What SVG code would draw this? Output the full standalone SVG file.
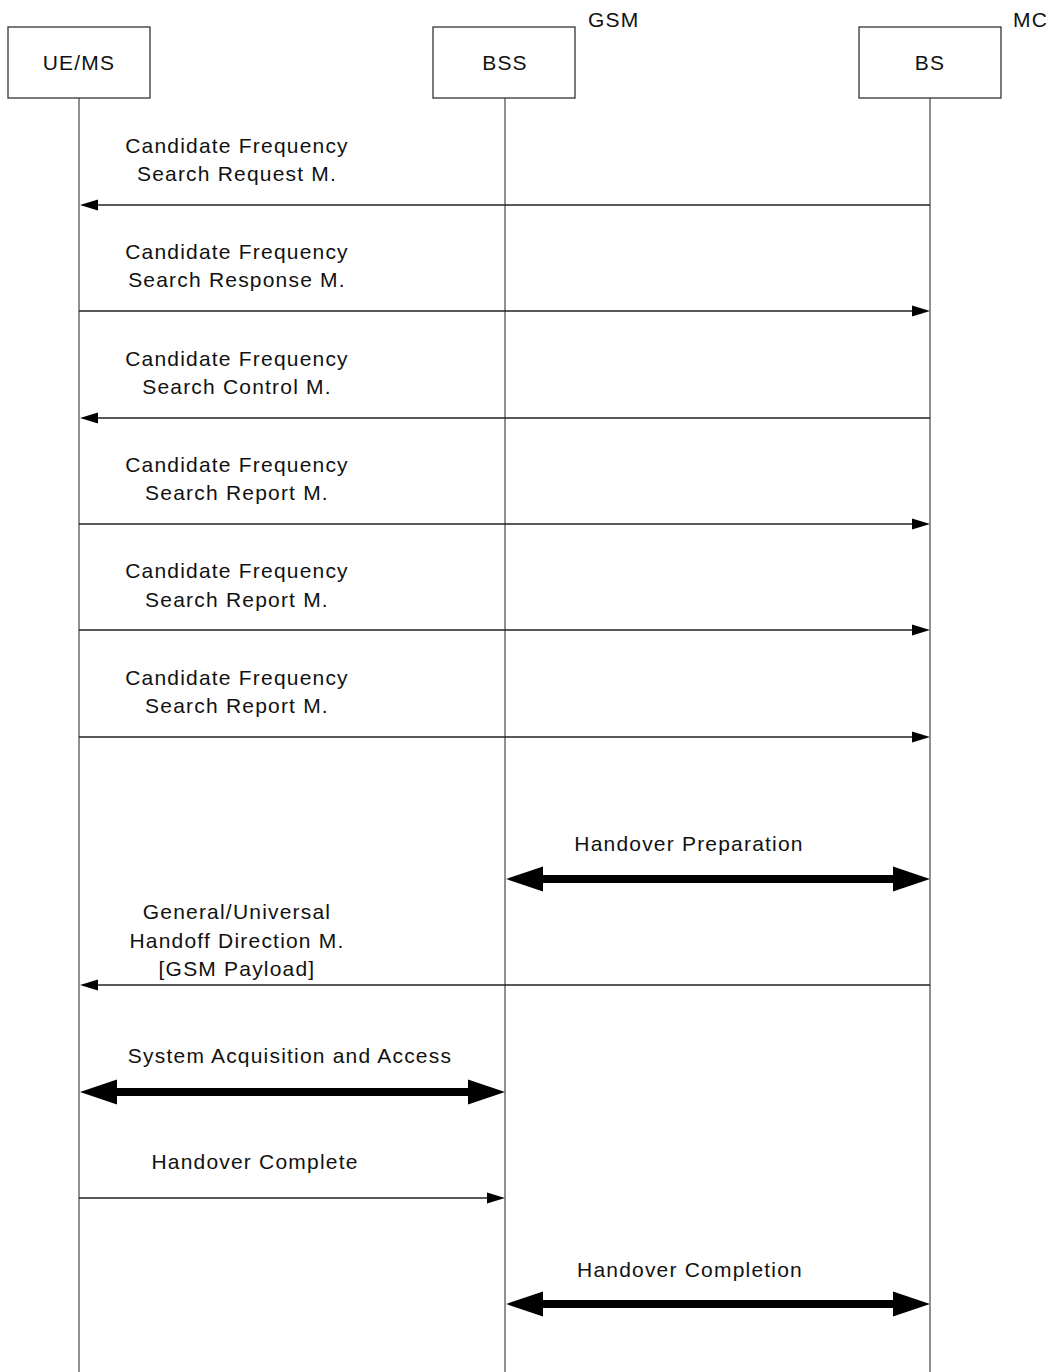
<svg xmlns="http://www.w3.org/2000/svg" width="1050" height="1372" viewBox="0 0 1050 1372">
<style>
text{font-family:"Liberation Sans",Arial,sans-serif;font-size:21px;letter-spacing:1.2px;fill:#111;text-anchor:middle}
.box{fill:#fff;stroke:#333;stroke-width:1.3}
.life{stroke:#555;stroke-width:1.3}
.msg{stroke:#222;stroke-width:1.3;fill:none}
.thick{stroke:#000;stroke-width:8;fill:none}
.head{fill:#000}
.lbl{text-anchor:start}
</style>
<rect width="1050" height="1372" fill="#fff"/>
<g id="lifelines">
<line class="life" x1="79" y1="98" x2="79" y2="1372"/>
<line class="life" x1="505" y1="98" x2="505" y2="1372"/>
<line class="life" x1="930" y1="98" x2="930" y2="1372"/>
</g>
<g id="node-uems"><rect class="box" x="8" y="27" width="142" height="71"/><text x="79" y="70">UE/MS</text></g>
<g id="node-bss"><rect class="box" x="433" y="27" width="142" height="71"/><text x="505" y="70">BSS</text><text class="lbl" x="588" y="27">GSM</text></g>
<g id="node-bs"><rect class="box" x="859" y="27" width="142" height="71"/><text x="930" y="70">BS</text><text class="lbl" x="1013" y="27">MC</text></g>
<g id="connectors">
<line class="msg" x1="930" y1="205" x2="96" y2="205"/><polygon class="head" points="80,205 98,199.5 98,210.5"/>
<line class="msg" x1="79" y1="311" x2="913" y2="311"/><polygon class="head" points="930,311 912,305.5 912,316.5"/>
<line class="msg" x1="930" y1="418" x2="96" y2="418"/><polygon class="head" points="80,418 98,412.5 98,423.5"/>
<line class="msg" x1="79" y1="524" x2="913" y2="524"/><polygon class="head" points="930,524 912,518.5 912,529.5"/>
<line class="msg" x1="79" y1="630" x2="913" y2="630"/><polygon class="head" points="930,630 912,624.5 912,635.5"/>
<line class="msg" x1="79" y1="737" x2="913" y2="737"/><polygon class="head" points="930,737 912,731.5 912,742.5"/>
<line class="thick" x1="540" y1="879" x2="895" y2="879"/><polygon class="head" points="506,879 543,866.5 543,891.5"/><polygon class="head" points="930,879 893,866.5 893,891.5"/>
<line class="msg" x1="930" y1="985" x2="96" y2="985"/><polygon class="head" points="80,985 98,979.5 98,990.5"/>
<line class="thick" x1="114" y1="1092" x2="470" y2="1092"/><polygon class="head" points="80,1092 117,1079.5 117,1104.5"/><polygon class="head" points="505,1092 468,1079.5 468,1104.5"/>
<line class="msg" x1="79" y1="1198" x2="488" y2="1198"/><polygon class="head" points="505,1198 487,1192.5 487,1203.5"/>
<line class="thick" x1="540" y1="1304" x2="895" y2="1304"/><polygon class="head" points="506,1304 543,1291.5 543,1316.5"/><polygon class="head" points="930,1304 893,1291.5 893,1316.5"/>
</g>
<g id="labels">
<text x="237" y="153">Candidate Frequency</text><text x="237" y="181">Search Request M.</text>
<text x="237" y="259">Candidate Frequency</text><text x="237" y="287">Search Response M.</text>
<text x="237" y="366">Candidate Frequency</text><text x="237" y="394">Search Control M.</text>
<text x="237" y="472">Candidate Frequency</text><text x="237" y="500">Search Report M.</text>
<text x="237" y="578">Candidate Frequency</text><text x="237" y="607">Search Report M.</text>
<text x="237" y="685">Candidate Frequency</text><text x="237" y="713">Search Report M.</text>
<text x="689" y="851">Handover Preparation</text>
<text x="237" y="919">General/Universal</text><text x="237" y="948">Handoff Direction M.</text><text x="237" y="976">[GSM Payload]</text>
<text x="290" y="1063">System Acquisition and Access</text>
<text x="255" y="1169">Handover Complete</text>
<text x="690" y="1277">Handover Completion</text>
</g>
</svg>
